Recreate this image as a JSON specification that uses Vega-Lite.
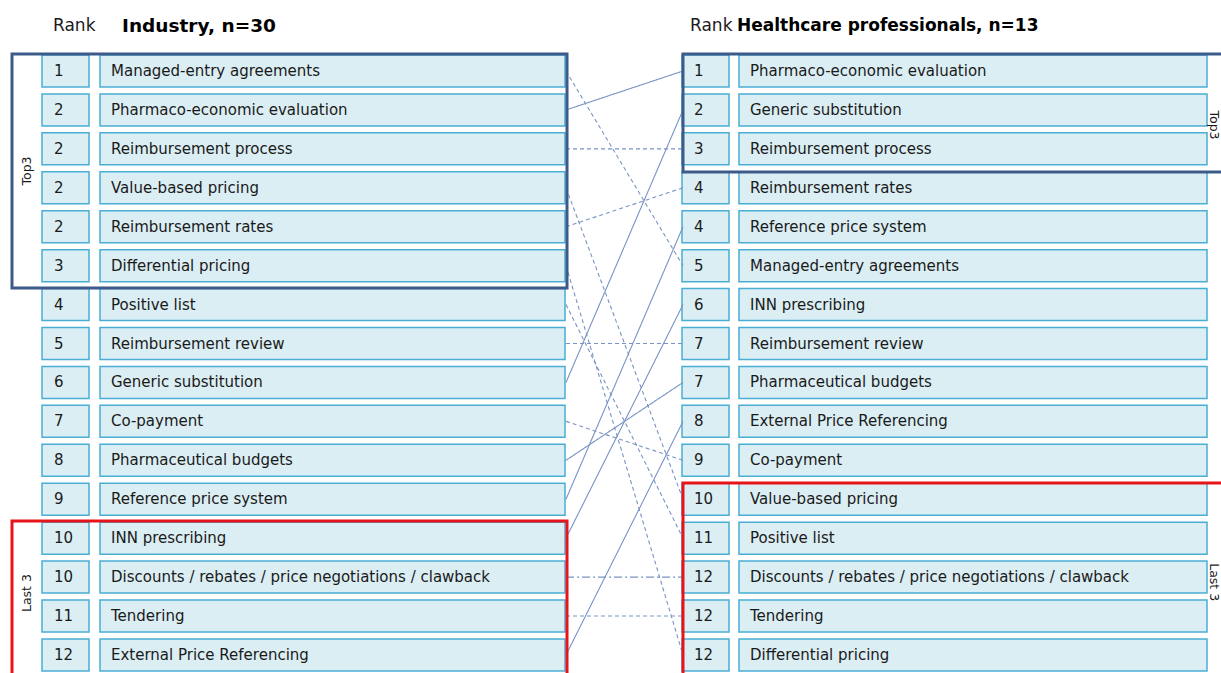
{
  "$schema": "https://vega.github.io/schema/vega-lite/v6.json",
  "width": 1221,
  "height": 673,
  "autosize": "none",
  "padding": 0,
  "background": "white",
  "config": {"view": {"stroke": null}, "text": {"font": "DejaVu Sans", "color": "#1a1a1a"}},
  "datasets": {
    "ranks": [
      {"ind_pos": 0, "ind_rank": 1, "item": "Managed-entry agreements", "hcp_pos": 5, "hcp_rank": 5, "change": "declined"},
      {"ind_pos": 1, "ind_rank": 2, "item": "Pharmaco-economic evaluation", "hcp_pos": 0, "hcp_rank": 1, "change": "improved"},
      {"ind_pos": 2, "ind_rank": 2, "item": "Reimbursement process", "hcp_pos": 2, "hcp_rank": 3, "change": "declined"},
      {"ind_pos": 3, "ind_rank": 2, "item": "Value-based pricing", "hcp_pos": 11, "hcp_rank": 10, "change": "declined"},
      {"ind_pos": 4, "ind_rank": 2, "item": "Reimbursement rates", "hcp_pos": 3, "hcp_rank": 4, "change": "declined"},
      {"ind_pos": 5, "ind_rank": 3, "item": "Differential pricing", "hcp_pos": 15, "hcp_rank": 12, "change": "declined"},
      {"ind_pos": 6, "ind_rank": 4, "item": "Positive list", "hcp_pos": 12, "hcp_rank": 11, "change": "declined"},
      {"ind_pos": 7, "ind_rank": 5, "item": "Reimbursement review", "hcp_pos": 7, "hcp_rank": 7, "change": "declined"},
      {"ind_pos": 8, "ind_rank": 6, "item": "Generic substitution", "hcp_pos": 1, "hcp_rank": 2, "change": "improved"},
      {"ind_pos": 9, "ind_rank": 7, "item": "Co-payment", "hcp_pos": 10, "hcp_rank": 9, "change": "declined"},
      {"ind_pos": 10, "ind_rank": 8, "item": "Pharmaceutical budgets", "hcp_pos": 8, "hcp_rank": 7, "change": "improved"},
      {"ind_pos": 11, "ind_rank": 9, "item": "Reference price system", "hcp_pos": 4, "hcp_rank": 4, "change": "improved"},
      {"ind_pos": 12, "ind_rank": 10, "item": "INN prescribing", "hcp_pos": 6, "hcp_rank": 6, "change": "improved"},
      {"ind_pos": 13, "ind_rank": 10, "item": "Discounts / rebates / price negotiations / clawback", "hcp_pos": 13, "hcp_rank": 12, "change": "declined, same position"},
      {"ind_pos": 14, "ind_rank": 11, "item": "Tendering", "hcp_pos": 14, "hcp_rank": 12, "change": "declined"},
      {"ind_pos": 15, "ind_rank": 12, "item": "External Price Referencing", "hcp_pos": 9, "hcp_rank": 8, "change": "improved"}
    ]
  },
  "data": {"name": "ranks"},
  "layer": [
    {
      "mark": {"type": "bar", "height": 32, "fill": "#dbeef4", "stroke": "#4aaed4", "strokeWidth": 1.5},
      "encoding": {
        "x": {"datum": 42, "type": "quantitative", "scale": {"domain": [0, 1221], "nice": false, "zero": false, "padding": 0}, "axis": null},
        "x2": {"datum": 89},
        "y": {"field": "ind_pos", "type": "quantitative", "scale": {"domain": [-1.8238, 15.4636], "nice": false, "zero": false, "reverse": true, "padding": 0}, "axis": null}
      }
    },
    {
      "mark": {"type": "bar", "height": 32, "fill": "#dbeef4", "stroke": "#4aaed4", "strokeWidth": 1.5},
      "encoding": {"x": {"datum": 100, "type": "quantitative"}, "x2": {"datum": 565}, "y": {"field": "ind_pos", "type": "quantitative"}}
    },
    {
      "mark": {"type": "bar", "height": 32, "fill": "#dbeef4", "stroke": "#4aaed4", "strokeWidth": 1.5},
      "encoding": {"x": {"datum": 682, "type": "quantitative"}, "x2": {"datum": 729}, "y": {"field": "hcp_pos", "type": "quantitative"}}
    },
    {
      "mark": {"type": "bar", "height": 32, "fill": "#dbeef4", "stroke": "#4aaed4", "strokeWidth": 1.5},
      "encoding": {"x": {"datum": 739, "type": "quantitative"}, "x2": {"datum": 1207}, "y": {"field": "hcp_pos", "type": "quantitative"}}
    },
    {
      "mark": {"type": "text", "align": "left", "baseline": "middle", "fontSize": 15},
      "encoding": {"x": {"datum": 54, "type": "quantitative"}, "y": {"field": "ind_pos", "type": "quantitative"}, "text": {"field": "ind_rank"}}
    },
    {
      "mark": {"type": "text", "align": "left", "baseline": "middle", "fontSize": 15},
      "encoding": {"x": {"datum": 111, "type": "quantitative"}, "y": {"field": "ind_pos", "type": "quantitative"}, "text": {"field": "item"}}
    },
    {
      "mark": {"type": "text", "align": "left", "baseline": "middle", "fontSize": 15},
      "encoding": {"x": {"datum": 694, "type": "quantitative"}, "y": {"field": "hcp_pos", "type": "quantitative"}, "text": {"field": "hcp_rank"}}
    },
    {
      "mark": {"type": "text", "align": "left", "baseline": "middle", "fontSize": 15},
      "encoding": {"x": {"datum": 750, "type": "quantitative"}, "y": {"field": "hcp_pos", "type": "quantitative"}, "text": {"field": "item"}}
    },
    {
      "mark": {"type": "rule", "stroke": "#7893c4", "strokeWidth": 1.1},
      "encoding": {
        "x": {"datum": 566, "type": "quantitative"},
        "x2": {"datum": 683},
        "y": {"field": "ind_pos", "type": "quantitative"},
        "y2": {"field": "hcp_pos"},
        "strokeDash": {"field": "change", "type": "nominal", "scale": {"domain": ["improved", "declined", "declined, same position"], "range": [[1, 0], [4, 3], [8, 3, 2, 3]]}, "legend": null}
      }
    },
    {
      "data": {"values": [{}]},
      "mark": {"type": "rect", "fill": null, "stroke": "#3d5b8a", "strokeWidth": 3, "clip": true},
      "encoding": {"x": {"datum": 12, "type": "quantitative"}, "x2": {"datum": 567}, "y": {"datum": -0.4367, "type": "quantitative"}, "y2": {"datum": 5.574}}
    },
    {
      "data": {"values": [{}]},
      "mark": {"type": "rect", "fill": null, "stroke": "#3d5b8a", "strokeWidth": 3, "clip": true},
      "encoding": {"x": {"datum": 683, "type": "quantitative"}, "x2": {"datum": 1240}, "y": {"datum": -0.4367, "type": "quantitative"}, "y2": {"datum": 2.594}}
    },
    {
      "data": {"values": [{}]},
      "mark": {"type": "rect", "fill": null, "stroke": "#e8141c", "strokeWidth": 3, "clip": true},
      "encoding": {"x": {"datum": 12, "type": "quantitative"}, "x2": {"datum": 567}, "y": {"datum": 11.559, "type": "quantitative"}, "y2": {"datum": 16.2}}
    },
    {
      "data": {"values": [{}]},
      "mark": {"type": "rect", "fill": null, "stroke": "#e8141c", "strokeWidth": 3, "clip": true},
      "encoding": {"x": {"datum": 683, "type": "quantitative"}, "x2": {"datum": 1240}, "y": {"datum": 10.583, "type": "quantitative"}, "y2": {"datum": 16.2}}
    },
    {
      "data": {"values": [{"t": "Top3"}]},
      "mark": {"type": "text", "angle": 270, "align": "center", "baseline": "middle", "fontSize": 12.5},
      "encoding": {"x": {"datum": 27, "type": "quantitative"}, "y": {"datum": 2.569, "type": "quantitative"}, "text": {"field": "t"}}
    },
    {
      "data": {"values": [{"t": "Last 3"}]},
      "mark": {"type": "text", "angle": 270, "align": "center", "baseline": "middle", "fontSize": 12.5},
      "encoding": {"x": {"datum": 27, "type": "quantitative"}, "y": {"datum": 13.41, "type": "quantitative"}, "text": {"field": "t"}}
    },
    {
      "data": {"values": [{"t": "Top3"}]},
      "mark": {"type": "text", "angle": 90, "align": "center", "baseline": "middle", "fontSize": 12.5},
      "encoding": {"x": {"datum": 1214, "type": "quantitative"}, "y": {"datum": 1.387, "type": "quantitative"}, "text": {"field": "t"}}
    },
    {
      "data": {"values": [{"t": "Last 3"}]},
      "mark": {"type": "text", "angle": 90, "align": "center", "baseline": "middle", "fontSize": 12.5},
      "encoding": {"x": {"datum": 1214, "type": "quantitative"}, "y": {"datum": 13.13, "type": "quantitative"}, "text": {"field": "t"}}
    },
    {
      "data": {"values": [{"t": "Rank"}]},
      "mark": {"type": "text", "align": "left", "baseline": "middle", "fontSize": 17},
      "encoding": {"x": {"datum": 53, "type": "quantitative"}, "y": {"datum": -1.16, "type": "quantitative"}, "text": {"field": "t"}}
    },
    {
      "data": {"values": [{"t": "Industry, n=30"}]},
      "mark": {"type": "text", "align": "left", "baseline": "middle", "fontSize": 18.5, "fontWeight": "bold", "color": "#000000"},
      "encoding": {"x": {"datum": 122, "type": "quantitative"}, "y": {"datum": -1.16, "type": "quantitative"}, "text": {"field": "t"}}
    },
    {
      "data": {"values": [{"t": "Rank"}]},
      "mark": {"type": "text", "align": "left", "baseline": "middle", "fontSize": 17},
      "encoding": {"x": {"datum": 690, "type": "quantitative"}, "y": {"datum": -1.16, "type": "quantitative"}, "text": {"field": "t"}}
    },
    {
      "data": {"values": [{"t": "Healthcare professionals, n=13"}]},
      "mark": {"type": "text", "align": "left", "baseline": "middle", "fontSize": 17, "fontWeight": "bold", "color": "#000000"},
      "encoding": {"x": {"datum": 737, "type": "quantitative"}, "y": {"datum": -1.16, "type": "quantitative"}, "text": {"field": "t"}}
    }
  ]
}
